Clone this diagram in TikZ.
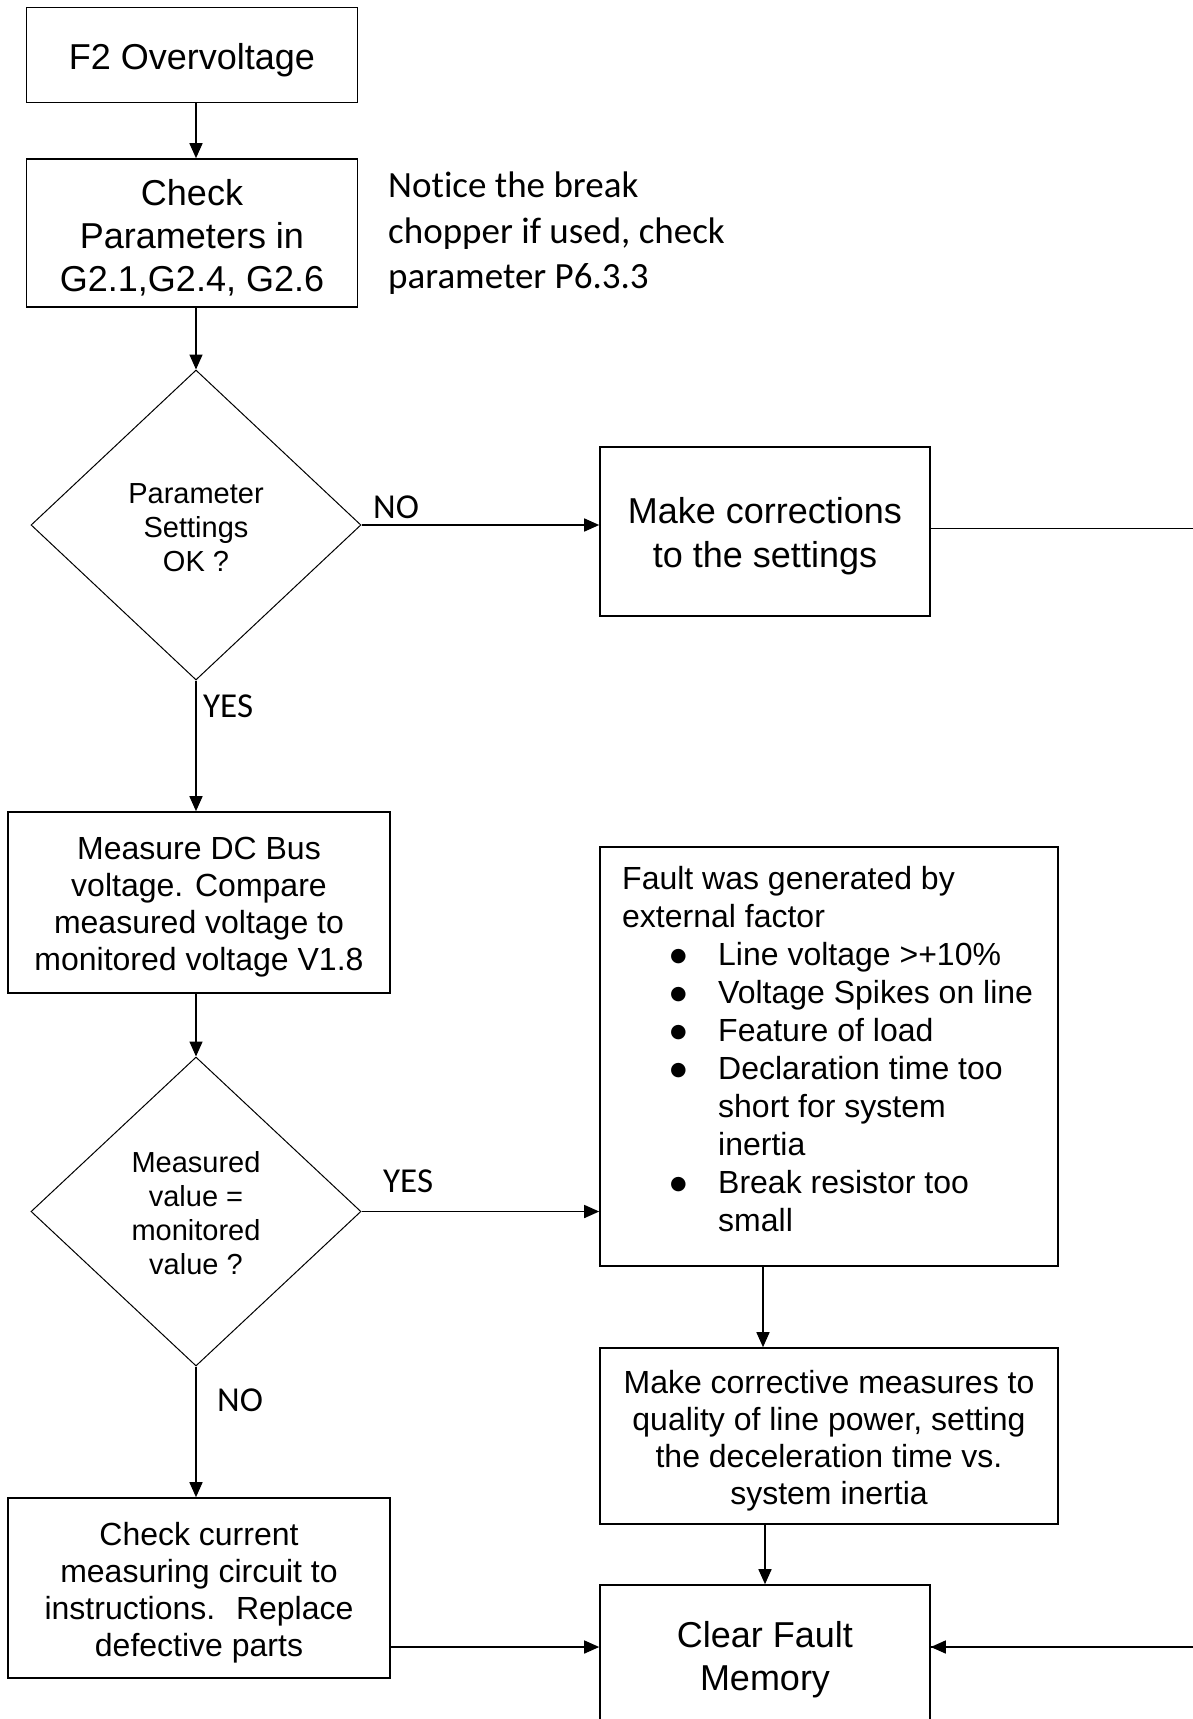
\documentclass[tikz,border=0pt]{standalone}
\usepackage{fontspec}
\setmainfont{Liberation Sans}
\newfontfamily\calibri[Ligatures=NoCommon]{Carlito}
\newfontfamily\dejavu{DejaVu Sans}
\usetikzlibrary{shapes.geometric,arrows.meta}
\newcommand\fs[2]{\fontsize{#1}{#2}\selectfont}
\newcommand\blt{\hspace*{48pt}\makebox[48pt][l]{\raisebox{4pt}{\dejavu\fs{19}{19}●}}}
\newcommand\ind{\hspace*{96pt}}
\newcommand\dn{\rule{0pt}{1.0em}}
\newcommand\dd{\rule{0pt}{0.87em}}
\begin{document}
\begin{tikzpicture}[x=1pt,y=-1pt,
  box/.style={draw, line width=1.6pt, inner sep=0pt, align=center},
  dia/.style={diamond, draw, line width=1pt, inner sep=0pt, aspect=1.06, align=center, font=\fs{29}{34}},
  arr/.style={line width=1.5pt, -{Triangle[length=15pt,width=13pt]}},
  lne/.style={line width=1.5pt},
  lbl/.style={font=\calibri\fs{35}{40}, inner sep=0pt, anchor=base west}]
\useasboundingbox (0,0) rectangle (1193,1719);
\fill[white] (0,0) rectangle (1193,1719);
\clip (0,0) rectangle (1193,1719);

\node[box, minimum width=331pt, minimum height=95pt, font=\fs{36}{40}] (f2) at (192,55) {\dn F2 Overvoltage};
\node[box, minimum width=331pt, minimum height=148pt, font=\fs{36}{43}] (chk) at (192,233) {\dn Check\\Parameters in\\G2.1,G2.4, G2.6};
\node[anchor=north west, align=left, inner sep=0pt, font=\calibri\fs{37}{45.5}] (note) at (388,172) {Notice the break\\chopper if used, check\\parameter P6.3.3};

\node[dia, minimum width=330pt, minimum height=310pt] (d1) at (196,525) {\dd Parameter\\Settings\\OK ?};
\node[box, minimum width=330pt, minimum height=169pt, font=\fs{36}{44}] (corr) at (765,531.5) {\dn Make corrections\\to the settings};

\node[box, minimum width=382pt, minimum height=181pt, font=\fs{32}{37}] (meas) at (199,902.5) {\dn Measure DC Bus\\voltage. Compare\\measured voltage to\\monitored voltage V1.8};

\node[box, minimum width=458pt, minimum height=419pt] (fault) at (829,1056.5) {};
\node[anchor=north west, align=left, inner sep=0pt, font=\fs{32}{38}] (faulttxt) at (622,866) {Fault was generated by\\external factor\\
\blt Line voltage >+10\%\\
\blt Voltage Spikes on line\\
\blt Feature of load\\
\blt Declaration time too\\
\ind short for system\\
\ind inertia\\
\blt Break resistor too\\
\ind small};

\node[dia, minimum width=330pt, minimum height=309pt] (d2) at (196,1211.5) {\dd Measured\\value =\\monitored\\value ?};

\node[box, minimum width=458pt, minimum height=176pt, font=\fs{32}{37}] (cor) at (829,1436) {\dn Make corrective measures to\\quality of line power, setting\\the deceleration time vs.\\system inertia};

\node[box, minimum width=382pt, minimum height=180pt, font=\fs{32}{37}] (cur) at (199,1588) {\dn Check current\\measuring circuit to\\instructions.~ Replace\\defective parts};

\node[box, minimum width=330pt, minimum height=140pt, font=\fs{36}{43}] (clear) at (765,1655) {\dn Clear Fault\\Memory};

% labels
\node[lbl] (no1) at (373,518) {NO};
\node[lbl] (yes1) at (203,717) {YES};
\node[lbl] (yes2) at (383,1192) {YES};
\node[lbl] (no2) at (217,1411) {NO};

% connectors
\draw[arr] (f2.south -| d1.north) -- (chk.north -| d1.north);
\draw[arr] (chk.south -| d1.north) -- (d1.north);
\draw[arr] (d1.east) -- (d1.east -| corr.west);
\draw[lne] ([yshift=3pt]corr.east) -- ++(300,0) coordinate (rt) |- ([yshift=8pt]clear.east) coordinate (ce);
\draw[arr] (rt |- ce) -- (ce);
\draw[arr] (d1.south) -- (meas.north -| d1.south);
\draw[arr] (meas.south -| d2.north) -- (d2.north);
\draw[arr] (d2.east) -- (d2.east -| fault.west);
\draw[arr] ([xshift=-66pt]fault.south) -- ([xshift=-66pt]fault.south |- cor.north);
\draw[arr] (cor.south -| clear.north) -- (clear.north);
\draw[arr] (d2.south) -- (cur.north -| d2.south);
\draw[arr] (cur.east |- ce) -- (clear.west |- ce);
\end{tikzpicture}
\end{document}
